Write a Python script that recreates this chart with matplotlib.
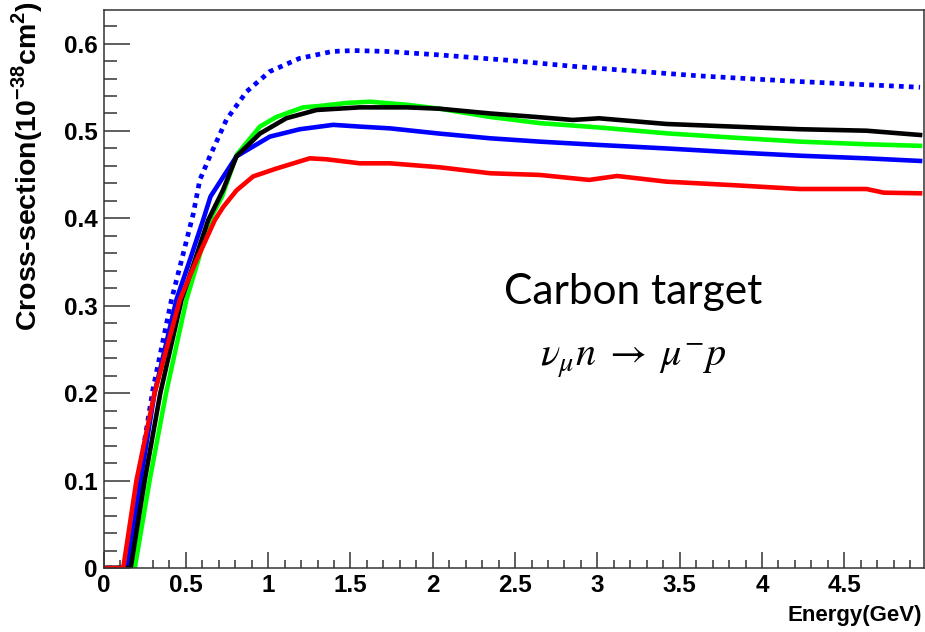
import matplotlib
matplotlib.use("Agg")
import matplotlib.pyplot as plt
from matplotlib.ticker import MultipleLocator, FuncFormatter

# ---------------- data ----------------
E_dot = [0.02, 0.14, 0.21, 0.30, 0.413, 0.474, 0.545, 0.585, 0.646, 0.747, 0.869, 1.01, 1.19, 1.39,
         1.52, 1.72, 2.04, 2.45, 2.85, 3.12, 3.62, 4.23, 4.96]
S_dot = [0.0, 0.0, 0.10, 0.204, 0.307, 0.352, 0.405, 0.444, 0.471, 0.513, 0.545, 0.568, 0.583, 0.591,
         0.592, 0.591, 0.587, 0.581, 0.574, 0.570, 0.563, 0.5565, 0.550]

E_green = [0.02, 0.19, 0.28, 0.38, 0.504, 0.575, 0.646, 0.72, 0.808, 0.95, 1.05, 1.213, 1.314, 1.476,
           1.618, 1.84, 2.04, 2.35, 2.65, 3.01, 3.42, 3.825, 4.23, 4.635, 4.96]
S_green = [0.0, 0.0, 0.10, 0.20, 0.307, 0.352, 0.398, 0.425, 0.4725, 0.505, 0.516, 0.527, 0.5286, 0.532,
           0.5335, 0.530, 0.5255, 0.516, 0.509, 0.504, 0.4973, 0.4924, 0.4878, 0.4848, 0.483]

E_blue = [0.02, 0.145, 0.225, 0.31, 0.443, 0.524, 0.605, 0.65, 0.808, 1.01, 1.193, 1.395, 1.557,
          1.74, 2.04, 2.35, 2.65, 3.01, 3.42, 3.825, 4.23, 4.635, 4.96]
S_blue = [0.0, 0.0, 0.10, 0.20, 0.307, 0.352, 0.398, 0.425, 0.471, 0.4935, 0.502, 0.507, 0.505,
          0.503, 0.497, 0.4916, 0.4878, 0.484, 0.480, 0.4756, 0.4717, 0.4687, 0.4657]

E_black = [0.02, 0.165, 0.25, 0.345, 0.474, 0.555, 0.636, 0.725, 0.808, 0.95, 1.11, 1.294, 1.557,
           1.84, 2.04, 2.35, 2.65, 2.85, 3.01, 3.42, 3.825, 4.23, 4.635, 4.96]
S_black = [0.0, 0.0, 0.10, 0.20, 0.307, 0.352, 0.398, 0.432, 0.471, 0.497, 0.5145, 0.524, 0.527,
           0.527, 0.5255, 0.520, 0.5157, 0.5126, 0.5145, 0.508, 0.505, 0.502, 0.5003, 0.4954]

E_red = [0.02, 0.12, 0.20, 0.31, 0.464, 0.565, 0.676, 0.727, 0.808, 0.909, 1.05, 1.253, 1.355, 1.557,
         1.74, 2.04, 2.35, 2.65, 2.95, 3.12, 3.42, 3.825, 4.23, 4.635, 4.74, 4.96]
S_red = [0.0, 0.0, 0.10, 0.20, 0.307, 0.352, 0.398, 0.413, 0.432, 0.448, 0.457, 0.4687, 0.4676, 0.463,
         0.463, 0.4585, 0.4516, 0.4497, 0.444, 0.4485, 0.442, 0.438, 0.4336, 0.4336, 0.4294, 0.4287]

x_label = "Energy(GeV)"
y_label = r"Cross-section(10$^{\mathbf{-38}}$cm$^{\mathbf{2}}$)"
note_line1 = "Carbon target"
note_line2 = r"$\nu_{\mu}n \;\rightarrow\; \mu^{-}p$"

# ---------------- styling ----------------
plt.rcParams['font.family'] = ['Liberation Sans', 'DejaVu Sans']
plt.rcParams['font.weight'] = 'normal'
plt.rcParams['mathtext.fontset'] = 'custom'
plt.rcParams['mathtext.rm'] = 'Liberation Sans:bold'
plt.rcParams['mathtext.bf'] = 'Liberation Sans:bold'
plt.rcParams['mathtext.default'] = 'it'

W, H = 925, 632
fig = plt.figure(figsize=(W / 100, H / 100), dpi=100)
left, right, top, bottom = 103.5, 924, 10, 568
ax = fig.add_axes([left / W, 1 - bottom / H, (right - left) / W, (bottom - top) / H])

lw = 3.3
ax.plot(E_dot, S_dot, color='#0000ff', lw=3.4, linestyle=(0, (1.0, 1.1)), dash_capstyle='butt')
ax.plot(E_green, S_green, color='#00ff00', lw=lw)
ax.plot(E_blue, S_blue, color='#0000ff', lw=lw)
ax.plot(E_black, S_black, color='black', lw=lw)
ax.plot(E_red, S_red, color='#ff0000', lw=lw)

ax.set_xlim(0, 4.984)
ax.set_ylim(0, 0.6384)

ax.xaxis.set_major_locator(MultipleLocator(0.5))
ax.xaxis.set_minor_locator(MultipleLocator(0.1))
ax.yaxis.set_major_locator(MultipleLocator(0.1))
ax.yaxis.set_minor_locator(MultipleLocator(0.02))
fmt = FuncFormatter(lambda v, p: "%g" % round(v, 3))
ax.xaxis.set_major_formatter(fmt)
ax.yaxis.set_major_formatter(fmt)

for sp in ax.spines.values():
    sp.set_linewidth(1.1)
    sp.set_color('#333333')

ax.tick_params(axis='y', which='major', direction='in', length=18.5, width=1.1, pad=4.3,
               labelsize=17.5, color='#333333')
ax.tick_params(axis='y', which='minor', direction='in', length=9, width=1.1, color='#333333')
ax.tick_params(axis='x', which='major', direction='in', length=11.5, width=1.1, pad=4,
               labelsize=17.5, color='#333333')
ax.tick_params(axis='x', which='minor', direction='in', length=5.5, width=1.1, color='#333333')
plt.setp(ax.get_xticklabels() + ax.get_yticklabels(), fontweight='bold')

fig.text(922 / W, 1 - 621.5 / H, x_label, ha='right', va='baseline', fontsize=16,
         fontweight='bold')
fig.text(27.5 / W, 1 - 1 / H, y_label, rotation=90, ha='center', va='top', fontsize=20.5,
         fontweight='bold')

fig.text(633 / W, 1 - 304 / H, note_line1, ha='center', va='baseline', fontsize=30.5,
         family='Lato', fontweight='normal')
fig.text(633 / W, 1 - 367 / H, note_line2, ha='center', va='baseline', fontsize=29,
         fontweight='normal', math_fontfamily='stix')

fig.savefig("out.png", dpi=100)
